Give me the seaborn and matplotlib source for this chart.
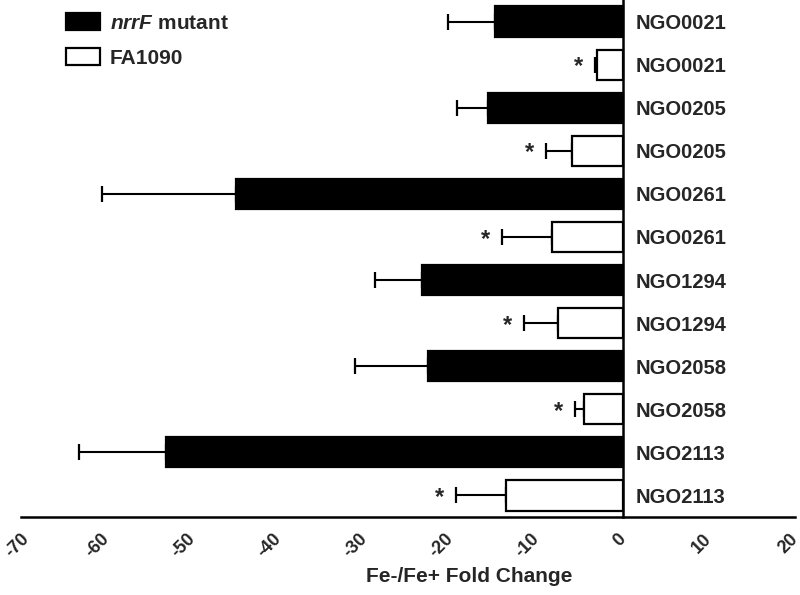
import pandas as pd
import seaborn as sns
import matplotlib.pyplot as plt
from matplotlib.transforms import ScaledTranslation

genes = ['NGO0021', 'NGO0205', 'NGO0261', 'NGO1294', 'NGO2058', 'NGO2113']
mutant_mean = [-14.9, -15.7, -45.0, -23.4, -22.7, -53.1]
mutant_err = [5.4, 3.6, 15.6, 5.4, 8.5, 10.2]
wt_mean = [-3.0, -5.9, -8.3, -7.6, -4.5, -13.6]
wt_err = [0.3, 3.1, 5.8, 3.9, 1.1, 5.8]
strains = ['$nrrF$ mutant', 'FA1090']

sns.set_style('white')
plt.rcParams['font.family'] = ['Liberation Sans', 'DejaVu Sans']
plt.rcParams['font.weight'] = 'bold'
plt.rcParams['mathtext.fontset'] = 'custom'
plt.rcParams['mathtext.it'] = 'Liberation Sans:italic:bold'
plt.rcParams['mathtext.rm'] = 'Liberation Sans:bold'

# long table, one row per bar (mutant then wild type for each gene)
rows = []
for i, g in enumerate(genes):
    rows.append({'row': f'{g} m', 'gene': g, 'strain': strains[0],
                 'value': mutant_mean[i], 'err': mutant_err[i], 'star': False})
    rows.append({'row': f'{g} wt', 'gene': g, 'strain': strains[1],
                 'value': wt_mean[i], 'err': wt_err[i], 'star': True})
df = pd.DataFrame(rows)

fig = plt.figure(figsize=(8, 5.95), dpi=100)
ax = fig.add_axes([21 / 800, 1 - 517 / 595, 774 / 800, 517 / 595])

sns.barplot(data=df, x='value', y='row', hue='strain', dodge=False,
            palette={strains[0]: 'black', strains[1]: 'white'},
            edgecolor='black', linewidth=1.6, width=0.7, orient='h',
            errorbar=None, ax=ax, zorder=2)

pos = list(range(len(df)))
ax.errorbar(df['value'], pos, xerr=[df['err'], [0] * len(df)], fmt='none',
            ecolor='black', elinewidth=1.5, capsize=6, capthick=1.6, zorder=1)

for p, (_, r) in zip(pos, df.iterrows()):
    if r['star']:
        ax.text(r['value'] - r['err'] - 1.9, p + 0.05, '*', ha='center',
                va='center', fontsize=17, fontweight='bold')

ax.set_xlim(-70, 20)
ax.set_ylim(len(df) - 0.5, -0.5)
ax.set_xticks(range(-70, 21, 10))
ax.set_xticklabels([str(v) for v in range(-70, 21, 10)], rotation=45,
                   ha='right', va='center', rotation_mode='anchor',
                   fontweight='bold')

ax.yaxis.tick_right()
ax.set_yticks(pos)
ax.set_yticklabels(df['gene'], fontweight='bold')
ax.tick_params(axis='y', length=0, pad=9, labelsize=14.5)
ax.tick_params(axis='x', length=6, width=1.6, direction='out', pad=8,
               labelsize=13)

# first rotated label sits on the left edge, push it in a bit
xlabs = ax.get_xticklabels()
shift = ScaledTranslation(4 / 72, 0, fig.dpi_scale_trans)
xlabs[0].set_transform(xlabs[0].get_transform() + shift)

for s in ['top', 'left']:
    ax.spines[s].set_visible(False)
ax.spines['right'].set_position(('data', 0))
ax.spines['right'].set_linewidth(1.8)
ax.spines['bottom'].set_linewidth(1.8)
for s in ['right', 'bottom']:
    ax.spines[s].set_color('black')

ax.set_ylabel('')
ax.set_xlabel('Fe-/Fe+ Fold Change', fontsize=15, fontweight='bold')
ax.xaxis.set_label_coords(0.579, -0.097)

ax.legend(loc='upper left', bbox_to_anchor=(66 / 800, 1 - 13 / 595),
          bbox_transform=fig.transFigure, frameon=False, fontsize=15,
          handlelength=1.65, handleheight=0.85, labelspacing=0.75,
          borderpad=0, borderaxespad=0, handletextpad=0.45)

fig.savefig('out.png', dpi=100)
